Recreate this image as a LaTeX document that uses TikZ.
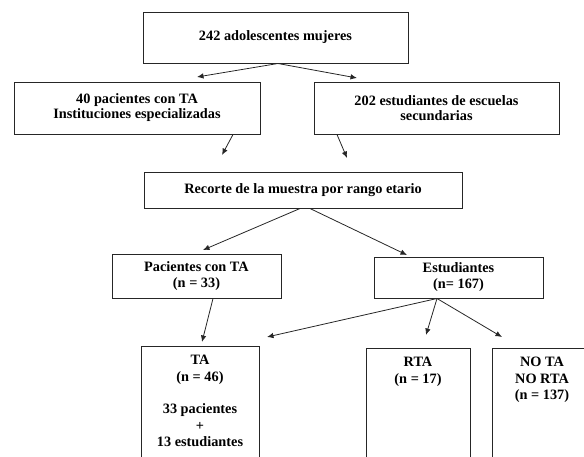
\documentclass[tikz,border=0pt]{standalone}
\usepackage{fontspec}
\setmainfont{Liberation Serif}
\usetikzlibrary{arrows.meta}

\tikzset{
  box/.style={draw=black!85, line width=1pt, align=center, inner sep=0pt,
    font=\fontsize{14.3}{15}\selectfont\bfseries},
  boxtext/.style={align=center, anchor=north, inner sep=0pt,
    font=\fontsize{14.3}{16.5}\selectfont\bfseries},
  arr/.style={black!85, line width=0.8pt, -{Latex[length=6.5pt,width=5.5pt]}}
}

\begin{document}
\begin{tikzpicture}[x=1pt, y=-1pt]
\useasboundingbox (0,0) rectangle (584,456);
\clip (0,0) rectangle (584,456);

% TOTAL
  \node[box, minimum width=265pt, minimum height=51pt] (total) at (275.5, 37.5) {242 adolescentes mujeres};

% SOURCES
  \node[box, minimum width=246pt, minimum height=52pt] (pac40) at (137.0, 108.0) {40 pacientes con TA\\Instituciones especializadas};
  \node[box, minimum width=245pt, minimum height=52pt] (est202) at (436.5, 108.0) {202 estudiantes de escuelas\\secundarias};

% AGE CUT
  \node[box, minimum width=318pt, minimum height=36pt] (recorte) at (303.0, 190.0) {Recorte de la muestra por rango etario};

% GROUPS
  \node[box, minimum width=169pt, minimum height=44pt, font=\fontsize{14.3}{16}\selectfont\bfseries] (pacTA) at (196.5, 276.0) {Pacientes con TA\\(n = 33)};
  \node[box, minimum width=169pt, minimum height=41pt, font=\fontsize{14.3}{16}\selectfont\bfseries] (estud) at (458.5, 277.5) {Estudiantes\\(n= 167)};

% FINAL GROUPS (boxes run past the bottom edge)
  \node[box, minimum width=118pt, minimum height=130pt] (ta) at (200.0, 411.0) {};
  \node[boxtext] (taText) at (ta.north |- 0,355) {TA\\(n = 46)\\[16pt]33 pacientes\\+\\13 estudiantes};

  \node[box, minimum width=104pt, minimum height=130pt] (rta) at (418.0, 413.0) {};
  \node[boxtext] (rtaText) at (rta.north |- 0,357) {RTA\\(n = 17)};

  \node[box, minimum width=100pt, minimum height=130pt] (nota) at (542.0, 413.0) {};
  \node[boxtext] (notaText) at (nota.north |- 0,357) {NO TA\\NO RTA\\(n = 137)};

% arrow tips
  \coordinate (tipA) at (197, 77);
  \coordinate (tipB) at (357, 78);
  \coordinate (tipC) at (222, 155);
  \coordinate (tipD) at (347, 158);
  \coordinate (tipE) at (203, 250);
  \coordinate (tipF) at (407, 255);
  \coordinate (tipG) at (202, 342);
  \coordinate (tipH) at (267, 337);
  \coordinate (tipI) at (426, 335);
  \coordinate (tipJ) at (502, 337);

% ARROWS
  \draw[arr] ([xshift=2.5pt]total.south) -- (tipA);
  \draw[arr] ([xshift=2.5pt]total.south) -- (tipB);
  \draw[arr] ([xshift=96pt]pac40.south) -- (tipC);
  \draw[arr] ([xshift=-99.5pt]est202.south) -- (tipD);
  \draw[arr] ([xshift=-3pt]recorte.south) -- (tipE);
  \draw[arr] ([xshift=7pt]recorte.south) -- (tipF);
  \draw[arr] ([xshift=16.5pt]pacTA.south) -- (tipG);
  \foreach \t in {tipH, tipI, tipJ}
    \draw[arr] ([xshift=-21.5pt]estud.south) -- (\t);

\end{tikzpicture}
\end{document}
